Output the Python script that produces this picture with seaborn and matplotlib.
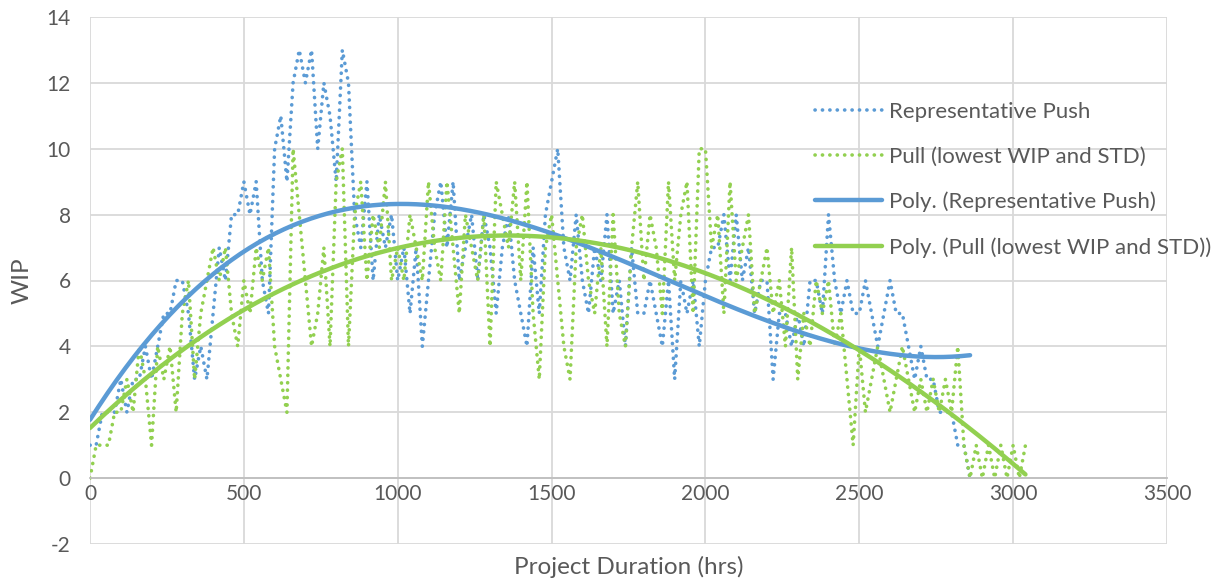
import numpy as np
import pandas as pd
import matplotlib
matplotlib.use("Agg")
import matplotlib.pyplot as plt
import seaborn as sns

# WIP sampled every 20 hrs of project duration
STEP_HRS = 20

push_wip = [
    1, 1, 2, 2, 2,
    3, 2, 3, 3, 4,
    3, 4, 5, 5, 6,
    6, 5, 3, 4, 3,
    5, 7, 6, 8, 8,
    9, 8, 9, 6, 5,
    10, 11, 9, 12, 13,
    12, 13, 10, 12, 11,
    9, 13, 12, 8, 7,
    9, 6, 8, 7, 8,
    6, 7, 5, 7, 4,
    6, 8, 9, 7, 9,
    6, 7, 8, 6, 8,
    7, 5, 7, 8, 6,
    5, 4, 7, 5, 8,
    9, 10, 7, 6, 8,
    6, 5, 7, 6, 8,
    5, 6, 4, 7, 5,
    5, 6, 5, 4, 6,
    3, 6, 5, 6, 4,
    6, 7, 7, 8, 6,
    8, 6, 7, 5, 6,
    6, 3, 5, 5, 4,
    5, 4, 6, 6, 5,
    8, 6, 5, 6, 5,
    5, 6, 5, 4, 5,
    6, 5, 5, 4, 3,
    4, 3, 3, 2, 2,
    2, 1, 1, 0,
]

pull_wip = [
    0, 1, 1, 1, 2,
    2, 3, 2, 4, 3,
    1, 4, 3, 4, 2,
    5, 6, 3, 5, 6,
    7, 6, 7, 5, 4,
    6, 5, 7, 6, 7,
    4, 3, 2, 10, 8,
    6, 4, 5, 7, 4,
    9, 10, 4, 8, 9,
    6, 8, 7, 9, 6,
    7, 6, 8, 7, 6,
    9, 7, 6, 9, 7,
    5, 8, 7, 6, 8,
    4, 9, 8, 7, 9,
    6, 9, 5, 3, 7,
    8, 6, 4, 3, 7,
    8, 6, 5, 7, 4,
    8, 5, 4, 7, 9,
    6, 8, 7, 5, 9,
    6, 8, 9, 5, 10,
    10, 7, 8, 5, 9,
    6, 7, 8, 5, 6,
    7, 5, 6, 4, 7,
    3, 5, 4, 6, 5,
    6, 4, 5, 3, 1,
    4, 2, 3, 4, 3,
    2, 3, 4, 3, 2,
    3, 2, 3, 2, 3,
    2, 4, 1, 0, 1,
    0, 1, 0, 1, 0,
    1, 0, 1,
]

push_label = "Representative Push"
pull_label = "Pull (lowest WIP and STD)"
x_ticks = [0, 500, 1000, 1500, 2000, 2500, 3000, 3500]
y_ticks = [-2, 0, 2, 4, 6, 8, 10, 12, 14]

BLUE = "#5B9BD5"
GREEN = "#92D050"
TEXT = "#595959"
GRID = "#D9D9D9"


def make_frame(wip):
    hrs = np.arange(len(wip)) * STEP_HRS
    return pd.DataFrame({"hrs": hrs, "wip": wip})


def poly_trend(df, order=3):
    coef = np.polyfit(df["hrs"], df["wip"], order)
    xs = np.linspace(df["hrs"].min(), df["hrs"].max(), 300)
    return pd.DataFrame({"hrs": xs, "wip": np.polyval(coef, xs)})


push = make_frame(push_wip)
pull = make_frame(pull_wip)

sns.set_style("white")
plt.rcParams["font.family"] = ["Lato", "DejaVu Sans"]
plt.rcParams["axes.unicode_minus"] = False

fig = plt.figure(figsize=(12.2, 5.81), dpi=100)
ax = fig.add_axes([90 / 1220, 37 / 581, 1077 / 1220, 527 / 581])

dot = (0, (0.05, 2.0))
sns.lineplot(data=push, x="hrs", y="wip", ax=ax, color=BLUE, lw=2.6,
             linestyle=dot, dash_capstyle="round", label=push_label)
sns.lineplot(data=pull, x="hrs", y="wip", ax=ax, color=GREEN, lw=2.6,
             linestyle=dot, dash_capstyle="round", label=pull_label)
sns.lineplot(data=poly_trend(push), x="hrs", y="wip", ax=ax, color=BLUE,
             lw=3.2, label=f"Poly. ({push_label})")
sns.lineplot(data=poly_trend(pull), x="hrs", y="wip", ax=ax, color=GREEN,
             lw=3.2, label=f"Poly. ({pull_label})")

ax.set_xlim(0, 3500)
ax.set_ylim(-2, 14)
ax.set_xticks(x_ticks)
ax.set_yticks(y_ticks)
ax.grid(True, color=GRID, lw=1.3)
ax.set_axisbelow(True)

for side in ["top", "right", "left"]:
    ax.spines[side].set_visible(False)
ax.spines["bottom"].set_position(("data", 0))
ax.spines["bottom"].set_color("#BFBFBF")
ax.spines["bottom"].set_linewidth(1.3)
ax.tick_params(axis="both", length=0, labelsize=15, labelcolor=TEXT)
ax.tick_params(axis="y", pad=14)
ax.tick_params(axis="x", pad=4)

ax.set_xlabel("")
ax.set_ylabel("WIP", fontsize=17.5, color=TEXT, labelpad=10)
fig.text((90 + 1167) / 2 / 1220, 1 - 567 / 581, "Project Duration (hrs)",
         ha="center", va="center", fontsize=17.5, color=TEXT)

leg = ax.legend(loc="upper left", bbox_to_anchor=(0.655, 0.877), frameon=False,
                fontsize=16, handlelength=3.0, labelspacing=1.12,
                handletextpad=0.3)
for t in leg.get_texts():
    t.set_color(TEXT)

fig.savefig("out.png", dpi=100)
